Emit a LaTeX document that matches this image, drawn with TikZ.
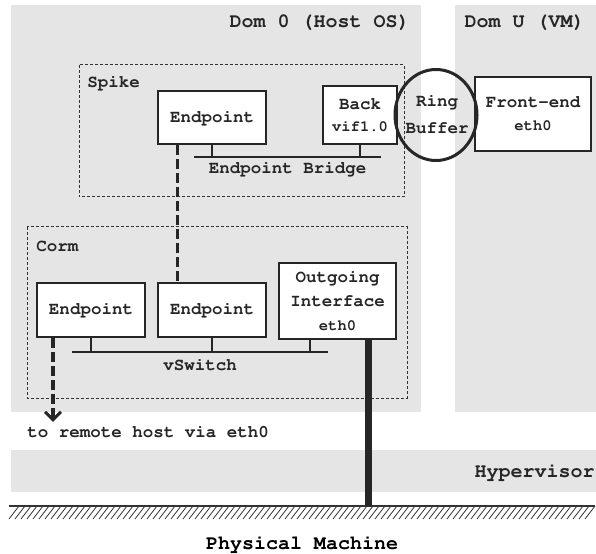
\documentclass[tikz,border=0pt]{standalone}
\usepackage[T1]{fontenc}
\usepackage{courier}
\renewcommand\familydefault{\ttdefault}
\renewcommand\seriesdefault{b}
\usetikzlibrary{arrows.meta}

\newcommand\bigtt{\fontsize{10bp}{12bp}\selectfont}
\newcommand\midtt{\fontsize{8.75bp}{11bp}\selectfont}
\newcommand\smalltt{\fontsize{7.75bp}{11bp}\selectfont}

\tikzset{
  domarea/.style={fill=black!10},
  group/.style={draw=black!80, dash pattern=on 1.5bp off 1bp, line width=0.5bp},
  box/.style={draw=black!85, fill=white, line width=0.8bp, inner sep=0pt, align=center, font=\midtt},
  lbl/.style={inner sep=0pt, font=\midtt},
  bus/.style={draw=black!85, line width=1.1bp},
  stub/.style={draw=black!85, line width=0.8bp},
  pipe/.style={draw=black!85, line width=1.5bp, dash pattern=on 5bp off 2bp},
}

\begin{document}
\begin{tikzpicture}[x=0.5bp, y=-0.5bp, text=black!85]
  \useasboundingbox (0,0) rectangle (596,554);
  \fill[domarea] (11,5) rectangle (421,412);
  \fill[domarea] (455,5) rectangle (596,412);
  \fill[domarea] (11,450) rectangle (596,492);
  \node[lbl, font=\bigtt, anchor=base east] (dom0) at (410,28) {Dom 0 (Host OS)};
  \node[lbl, font=\bigtt, anchor=base east] (domU) at (585,28) {Dom U (VM)};
  \node[lbl, font=\bigtt, anchor=base east] (hyp) at (595,477) {Hypervisor};
  \draw[line width=0.8bp, black!80] (9,506) -- (595,506);
  \foreach \x in {9,15,...,585}
    \draw[line width=0.4bp, black!80] (\x,519) -- (\x+10,506);
  \node[lbl, font=\bigtt, text=black, anchor=base] (phys) at (302,549) {Physical Machine};

  \draw[group] (79,65) rectangle (404,197);
  \node[lbl, anchor=base west] (spikeLbl) at (87,88) {Spike};
  \node[box, minimum width=54bp, minimum height=26.5bp] (spikeEp) at (212,117.5) {Endpoint};
  \node[box, minimum width=37bp, minimum height=29bp] (back) at (360,115) {Back\\{\smalltt vif1.0}};
  \coordinate (brL) at (194,157);
  \coordinate (brR) at (381,157);
  \draw[bus] (brL) -- node[below, font=\midtt, inner sep=2bp] (brLbl) {Endpoint Bridge} (brR);
  \draw[stub] (spikeEp.south) -- (spikeEp.south |- brL);
  \draw[stub] (back.south) -- (back.south |- brL);

  \node[box, minimum width=58bp, minimum height=37bp] (front) at (533,114) {Front-end\\[0.5bp]{\smalltt eth0}};
  \coordinate (ringC) at (436,115);
  \draw[line width=1.5bp, black!85] (ringC) ellipse [x radius=20.5bp, y radius=22.75bp];
  \node[lbl, align=center] (ring) at (437,114) {Ring\\[2.5bp]Buffer};

  \draw[group] (27,227) rectangle (407,398);
  \node[lbl, anchor=base west] (cormLbl) at (36,252) {Corm};
  \node[box, minimum width=54bp, minimum height=27bp] (corEpA) at (91,310) {Endpoint};
  \node[box, minimum width=54bp, minimum height=27bp] (corEpB) at (212,310) {Endpoint};
  \node[box, minimum width=58.5bp, minimum height=38bp] (outIf) at (337.5,301) {Outgoing\\[1bp]Interface\\[1bp]{\smalltt eth0}};
  \coordinate (swL) at (72,352);
  \coordinate (swR) at (328,352);
  \draw[bus] (swL) -- node[below, font=\midtt, inner sep=3bp] (swLbl) {vSwitch} (swR);
  \draw[stub] (corEpA.south) -- (corEpA.south |- swL);
  \draw[stub] (corEpB.south) -- (corEpB.south |- swL);
  \draw[stub] ([xshift=-13.75bp]outIf.south) -- ([xshift=-13.75bp]outIf.south |- swL);

  \draw[pipe] ([xshift=-17.5bp]spikeEp.south) -- ([xshift=-17.5bp]corEpB.north);
  \node[lbl, anchor=base west] (remote) at (27,437) {to remote host via eth0};
  \draw[pipe, -{Straight Barb[length=4bp, width=8bp]}, shorten >=1.5bp] ([xshift=-19bp]corEpA.south) -- ([xshift=-19bp]corEpA.south |- remote.north);
  \coordinate (gnd) at (0,506);
  \draw[line width=3.5bp, black!85] ([xshift=15.25bp]outIf.south) -- ([xshift=15.25bp]outIf.south |- gnd);
\end{tikzpicture}
\end{document}
